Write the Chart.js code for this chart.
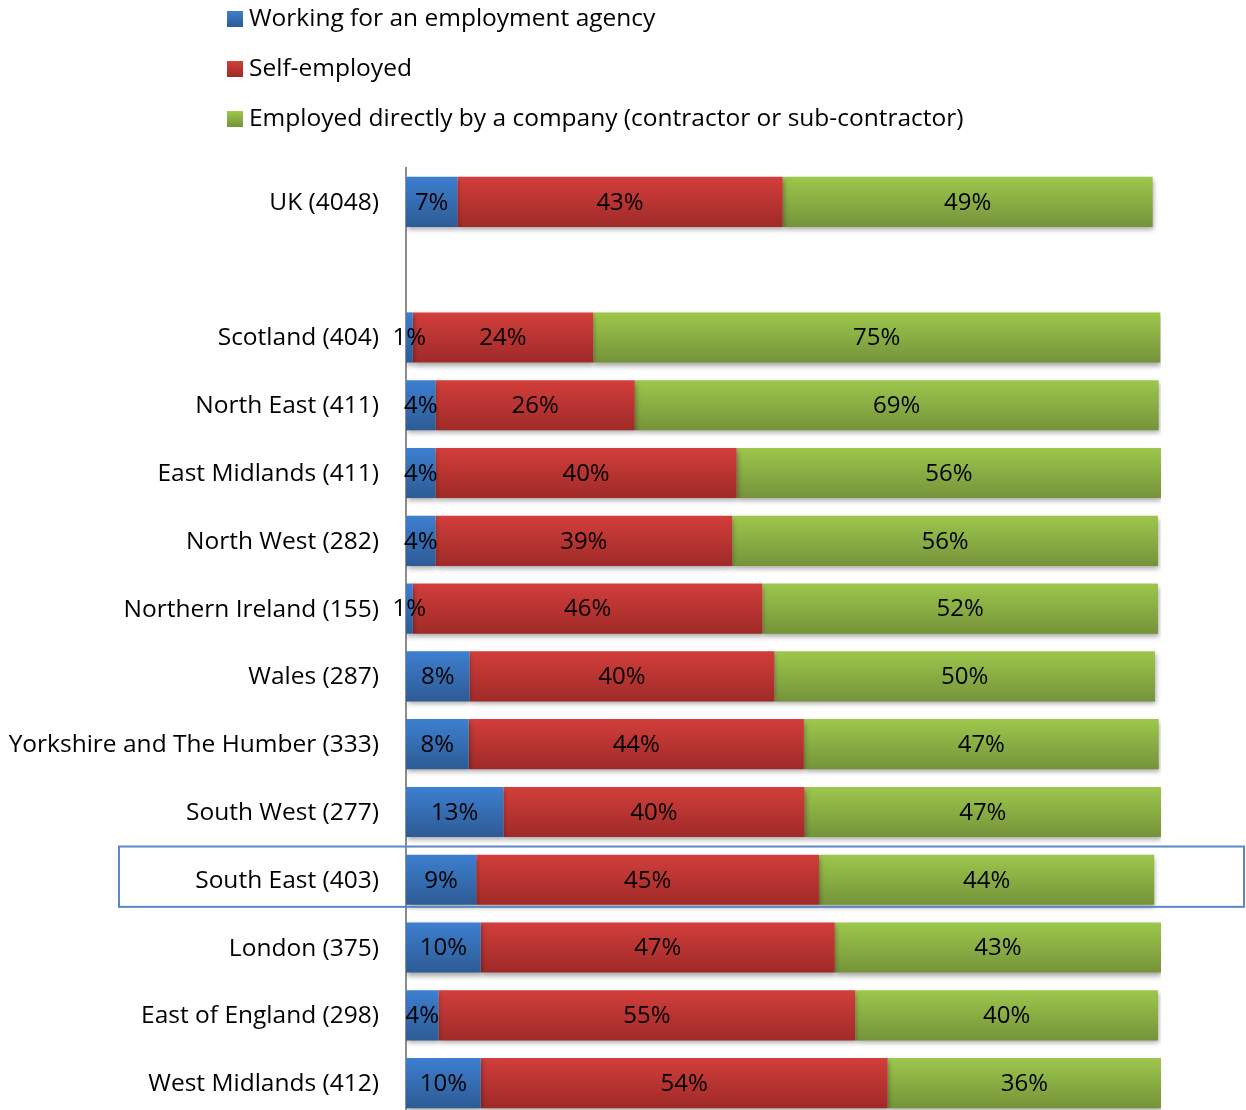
<!DOCTYPE html>
<html>
<head>
<meta charset="utf-8">
<script src="https://cdn.jsdelivr.net/npm/chart.js@4.4.1/dist/chart.umd.min.js"></script>
<style>
  html, body { margin: 0; padding: 0; background: #fff; overflow: hidden; }
  #wrap { position: relative; width: 1246px; height: 1120px; }
  #legend { position: absolute; left: 227px; top: -8px; font-family: "Open Sans", sans-serif; font-size: 24.5px; color: #000; }
  #legend div { height: 50px; line-height: 50px; white-space: nowrap; }
  #legend span.box { display: inline-block; width: 16px; height: 16px; margin-right: 6px; vertical-align: -1px; }
</style>
</head>
<body>
<div id="wrap">
  <canvas id="chart" width="1246" height="1120"></canvas>
  <div id="legend"></div>
</div>
<script>
// --- Data ---
const categories = ['UK (4048)', '', 'Scotland (404)', 'North East (411)', 'East Midlands (411)', 'North West (282)',
  'Northern Ireland (155)', 'Wales (287)', 'Yorkshire and The Humber (333)', 'South West (277)', 'South East (403)',
  'London (375)', 'East of England (298)', 'West Midlands (412)'];
const seriesNames = ['Working for an employment agency', 'Self-employed', 'Employed directly by a company (contractor or sub-contractor)'];
const agency = [6.8, null, 0.9, 3.9, 3.9, 3.9, 0.9, 8.4, 8.3, 12.9, 9.3, 9.9, 4.3, 9.9];
const selfEmployed = [43.1, null, 23.9, 26.4, 39.9, 39.3, 46.3, 40.4, 44.4, 39.9, 45.4, 46.9, 55.2, 53.9];
const employedDirect = [49.0, null, 75.1, 69.4, 56.2, 56.4, 52.4, 50.4, 47.0, 47.2, 44.4, 43.2, 40.1, 36.2];
const highlighted = 'South East (403)';

// top / bottom colours of the bar gradients
const palette = [['#3d7fd0', '#2d5b95'], ['#d23e3b', '#9f2a28'], ['#9dc74c', '#75933a']];
const FONT = '"Open Sans", sans-serif';
const BAR_PCT = 0.74;

function barGradient(i) {
    return (context) => {
        const chart = context.chart;
        const y = chart.scales.y;
        if (!y || context.dataIndex === undefined) return palette[i][0];
        const center = y.getPixelForValue(context.dataIndex);
        const half = (y.height / categories.length) * BAR_PCT / 2;
        if (!isFinite(center) || !isFinite(half) || half <= 0) return palette[i][0];
        const g = chart.ctx.createLinearGradient(0, center - half, 0, center + half);
        g.addColorStop(0, palette[i][0]);
        g.addColorStop(1, palette[i][1]);
        return g;
    };
}

const dataSets = [agency, selfEmployed, employedDirect].map((values, i) => ({
    label: seriesNames[i],
    data: values,
    backgroundColor: barGradient(i),
    borderWidth: 0,
    barPercentage: BAR_PCT,
    categoryPercentage: 1
}));

// shadows under the bars + percentage labels
const barExtras = {
    id: 'barExtras',
    beforeDatasetsDraw(chart) {
        const ctx = chart.ctx;
        ctx.save();
        ctx.shadowColor = 'rgba(0,0,0,0.35)';
        ctx.shadowBlur = 5;
        ctx.shadowOffsetX = 1;
        ctx.shadowOffsetY = 3;
    },
    afterDatasetsDraw(chart) {
        const ctx = chart.ctx;
        ctx.restore();
        ctx.save();
        ctx.font = '24px ' + FONT;
        ctx.fillStyle = '#000';
        ctx.textAlign = 'center';
        ctx.textBaseline = 'middle';
        chart.data.datasets.forEach((ds, di) => {
            const meta = chart.getDatasetMeta(di);
            meta.data.forEach((el, idx) => {
                const v = ds.data[idx];
                if (v === null || v === undefined) return;
                const p = el.getProps(['x', 'y', 'base'], true);
                ctx.fillText(Math.round(v) + '%', (p.x + p.base) / 2, p.y + 1);
            });
        });
        ctx.restore();
    },
    afterDraw(chart) {
        const idx = categories.indexOf(highlighted);
        if (idx < 0) return;
        const y = chart.scales.y;
        const c = y.getPixelForValue(idx);
        const slot = y.height / categories.length;
        const ctx = chart.ctx;
        ctx.save();
        ctx.strokeStyle = '#5b87c5';
        ctx.lineWidth = 2;
        ctx.strokeRect(119, c - slot * 0.49, chart.width - 121, slot * 0.89);
        ctx.restore();
    }
};

const chart = new Chart(document.getElementById('chart'), {
    type: 'bar',
    data: { labels: categories, datasets: dataSets },
    options: {
        indexAxis: 'y',
        responsive: false,
        animation: false,
        layout: { padding: { top: 168, right: 85, bottom: 3, left: 0 } },
        plugins: { legend: { display: false }, tooltip: { enabled: false } },
        scales: {
            x: { stacked: true, min: 0, max: 100, display: false },
            y: {
                stacked: true,
                grid: { display: false, drawTicks: false },
                border: { display: true, color: '#8c8c8c', width: 2 },
                ticks: { color: '#000', padding: 27, labelOffset: 1, font: { family: FONT, size: 24.5 } },
                afterFit(scale) {
                    scale.width = 406;
                    scale.paddingTop = 0;
                    scale.paddingBottom = 0;
                }
            }
        }
    },
    plugins: [barExtras]
});

// legend list, one series per line
const legend = document.getElementById('legend');
seriesNames.forEach((name, i) => {
    const row = document.createElement('div');
    const box = document.createElement('span');
    box.className = 'box';
    box.style.background = 'linear-gradient(' + palette[i][0] + ',' + palette[i][1] + ')';
    row.appendChild(box);
    row.appendChild(document.createTextNode(name));
    legend.appendChild(row);
});
</script>
</body>
</html>
